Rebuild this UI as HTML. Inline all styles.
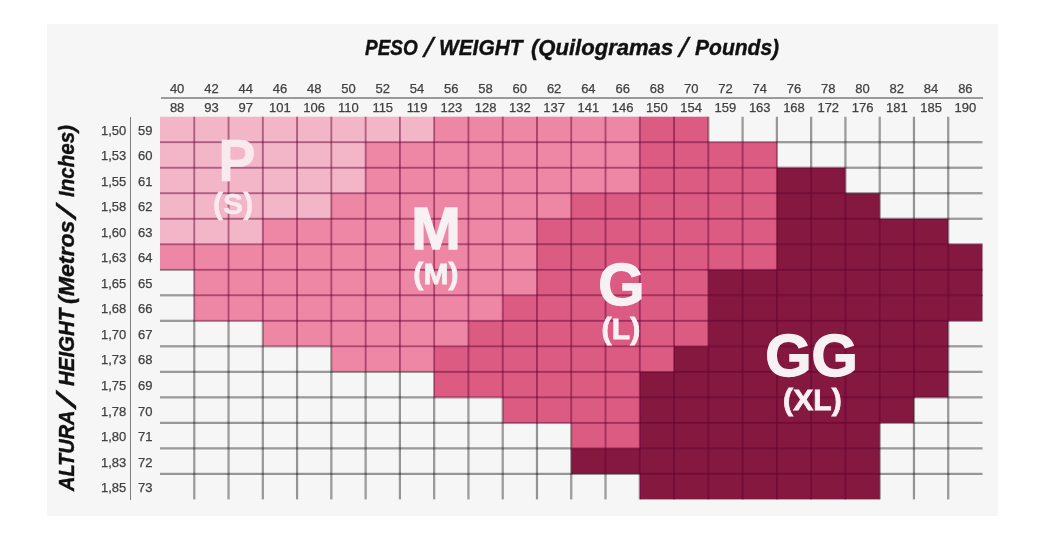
<!DOCTYPE html>
<html lang="pt">
<head>
<meta charset="utf-8">
<title>PESO / WEIGHT - ALTURA / HEIGHT</title>
<style>
html,body{margin:0;padding:0;background:#fff;}
body{width:1045px;height:540px;position:relative;overflow:hidden;font-family:"Liberation Sans",sans-serif;}
#chart{position:absolute;left:0;top:0;width:1045px;height:540px;filter:blur(0.45px);}
#panel{position:absolute;left:47px;top:24px;width:951px;height:491.5px;background:#f6f6f6;}
#grid{position:absolute;left:0;top:0;width:1045px;height:540px;}
#grid .lw{fill:rgba(0,0,0,0.40);}
#grid .lc{fill:rgba(100,0,50,0.52);}
.t{position:absolute;white-space:nowrap;line-height:1;}
.title{font-weight:bold;font-style:italic;color:#111;-webkit-text-stroke:0.4px #111;font-size:22.3px;height:22.3px;width:0;transform-origin:0 0;}
.title .w{position:absolute;top:0;display:block;transform-origin:0 0;}
.title .sl{font-size:28px;top:-3.33px;font-weight:normal;-webkit-text-stroke:0.35px #111;}
.num{font-size:13px;color:#404040;-webkit-text-stroke:0.25px #404040;width:40px;margin-left:-20px;text-align:center;}
.rl{font-size:13px;color:#404040;-webkit-text-stroke:0.25px #404040;}
.big{font-weight:bold;color:#f7f1f4;font-size:59.5px;-webkit-text-stroke:1.4px #f7f1f4;text-align:center;width:200px;margin-left:-100px;}
.sub{font-weight:bold;color:#f7f1f4;font-size:30px;-webkit-text-stroke:0.8px #f7f1f4;letter-spacing:0.2px;text-align:center;width:200px;margin-left:-100px;}
.big.p{color:#f8eaef;-webkit-text-stroke:0.5px #f8eaef;font-size:59px;transform:scaleX(0.95);}
.sub.p{color:#f8eaef;-webkit-text-stroke:0.5px #f8eaef;}
.hl{position:absolute;background:#929292;}
</style>
</head>
<body>
<div id="chart">
<div id="panel"></div>
<svg id="grid" width="1045" height="540" viewBox="0 0 1045 540">

<g id="cells">
<rect x="160" y="116.7" width="274.77" height="26.11" fill="#f3b5c8"/>
<rect x="434.17" y="116.7" width="206.22" height="26.11" fill="#ee86a5"/>
<rect x="639.79" y="116.7" width="68.54" height="26.11" fill="#dc5b82"/>
<rect x="160" y="142.21" width="206.22" height="26.11" fill="#f3b5c8"/>
<rect x="365.62" y="142.21" width="274.77" height="26.11" fill="#ee86a5"/>
<rect x="639.79" y="142.21" width="137.08" height="26.11" fill="#dc5b82"/>
<rect x="160" y="167.73" width="206.22" height="26.11" fill="#f3b5c8"/>
<rect x="365.62" y="167.73" width="274.77" height="26.11" fill="#ee86a5"/>
<rect x="639.79" y="167.73" width="137.68" height="26.11" fill="#dc5b82"/>
<rect x="776.88" y="167.73" width="68.54" height="26.11" fill="#84183f"/>
<rect x="160" y="193.24" width="171.95" height="26.11" fill="#f3b5c8"/>
<rect x="331.35" y="193.24" width="240.5" height="26.11" fill="#ee86a5"/>
<rect x="571.25" y="193.24" width="206.22" height="26.11" fill="#dc5b82"/>
<rect x="776.88" y="193.24" width="102.81" height="26.11" fill="#84183f"/>
<rect x="160" y="218.75" width="103.41" height="26.11" fill="#f3b5c8"/>
<rect x="262.81" y="218.75" width="274.77" height="26.11" fill="#ee86a5"/>
<rect x="536.98" y="218.75" width="240.5" height="26.11" fill="#dc5b82"/>
<rect x="776.88" y="218.75" width="171.35" height="26.11" fill="#84183f"/>
<rect x="160" y="244.27" width="34.87" height="25.51" fill="#ee86a5"/>
<rect x="194.27" y="244.27" width="343.31" height="26.11" fill="#ee86a5"/>
<rect x="536.98" y="244.27" width="240.5" height="26.11" fill="#dc5b82"/>
<rect x="776.88" y="244.27" width="205.62" height="26.11" fill="#84183f"/>
<rect x="194.27" y="269.78" width="343.31" height="26.11" fill="#ee86a5"/>
<rect x="536.98" y="269.78" width="171.95" height="26.11" fill="#dc5b82"/>
<rect x="708.33" y="269.78" width="274.17" height="26.11" fill="#84183f"/>
<rect x="194.27" y="295.29" width="69.14" height="25.51" fill="#ee86a5"/>
<rect x="262.81" y="295.29" width="240.5" height="26.11" fill="#ee86a5"/>
<rect x="502.71" y="295.29" width="206.22" height="26.11" fill="#dc5b82"/>
<rect x="708.33" y="295.29" width="240.5" height="26.11" fill="#84183f"/>
<rect x="948.23" y="295.29" width="34.27" height="25.51" fill="#84183f"/>
<rect x="262.81" y="320.81" width="69.14" height="25.51" fill="#ee86a5"/>
<rect x="331.35" y="320.81" width="137.68" height="26.11" fill="#ee86a5"/>
<rect x="468.44" y="320.81" width="240.5" height="26.11" fill="#dc5b82"/>
<rect x="708.33" y="320.81" width="239.9" height="26.11" fill="#84183f"/>
<rect x="331.35" y="346.32" width="103.41" height="25.51" fill="#ee86a5"/>
<rect x="434.17" y="346.32" width="240.5" height="26.11" fill="#dc5b82"/>
<rect x="674.06" y="346.32" width="274.17" height="26.11" fill="#84183f"/>
<rect x="434.17" y="371.83" width="69.14" height="25.51" fill="#dc5b82"/>
<rect x="502.71" y="371.83" width="137.68" height="26.11" fill="#dc5b82"/>
<rect x="639.79" y="371.83" width="274.77" height="26.11" fill="#84183f"/>
<rect x="913.96" y="371.83" width="34.27" height="25.51" fill="#84183f"/>
<rect x="502.71" y="397.35" width="69.14" height="25.51" fill="#dc5b82"/>
<rect x="571.25" y="397.35" width="69.14" height="26.11" fill="#dc5b82"/>
<rect x="639.79" y="397.35" width="240.5" height="26.11" fill="#84183f"/>
<rect x="879.69" y="397.35" width="34.27" height="25.51" fill="#84183f"/>
<rect x="571.25" y="422.86" width="69.14" height="26.11" fill="#dc5b82"/>
<rect x="639.79" y="422.86" width="239.9" height="26.11" fill="#84183f"/>
<rect x="571.25" y="448.37" width="69.14" height="25.51" fill="#84183f"/>
<rect x="639.79" y="448.37" width="239.9" height="26.11" fill="#84183f"/>
<rect x="639.79" y="473.89" width="239.9" height="25.51" fill="#84183f"/>
</g>
<g class="lw"><rect x="193.17" y="269.78" width="1.1" height="229.62"/><rect x="194.27" y="320.81" width="1.1" height="178.59"/><rect x="227.44" y="320.81" width="1.1" height="178.59"/><rect x="228.54" y="320.81" width="1.1" height="178.59"/><rect x="261.71" y="320.81" width="1.1" height="178.59"/><rect x="262.81" y="346.32" width="1.1" height="153.08"/><rect x="295.98" y="346.32" width="1.1" height="153.08"/><rect x="297.08" y="346.32" width="1.1" height="153.08"/><rect x="330.25" y="346.32" width="1.1" height="153.08"/><rect x="331.35" y="371.83" width="1.1" height="127.57"/><rect x="364.52" y="371.83" width="1.1" height="127.57"/><rect x="365.62" y="371.83" width="1.1" height="127.57"/><rect x="398.8" y="371.83" width="1.1" height="127.57"/><rect x="399.9" y="371.83" width="1.1" height="127.57"/><rect x="433.07" y="371.83" width="1.1" height="127.57"/><rect x="434.17" y="397.35" width="1.1" height="102.05"/><rect x="467.34" y="397.35" width="1.1" height="102.05"/><rect x="468.44" y="397.35" width="1.1" height="102.05"/><rect x="501.61" y="397.35" width="1.1" height="102.05"/><rect x="502.71" y="422.86" width="1.1" height="76.54"/><rect x="535.88" y="422.86" width="1.1" height="76.54"/><rect x="536.98" y="422.86" width="1.1" height="76.54"/><rect x="570.15" y="422.86" width="1.1" height="76.54"/><rect x="571.25" y="473.89" width="1.1" height="25.51"/><rect x="604.42" y="473.89" width="1.1" height="25.51"/><rect x="605.52" y="473.89" width="1.1" height="25.51"/><rect x="638.69" y="473.89" width="1.1" height="25.51"/><rect x="708.33" y="116.7" width="1.1" height="25.51"/><rect x="741.5" y="116.7" width="1.1" height="25.51"/><rect x="742.6" y="116.7" width="1.1" height="25.51"/><rect x="775.77" y="116.7" width="1.1" height="25.51"/><rect x="776.88" y="116.7" width="1.1" height="51.03"/><rect x="810.05" y="116.7" width="1.1" height="51.03"/><rect x="811.15" y="116.7" width="1.1" height="51.03"/><rect x="844.32" y="116.7" width="1.1" height="51.03"/><rect x="845.42" y="116.7" width="1.1" height="76.54"/><rect x="878.59" y="116.7" width="1.1" height="76.54"/><rect x="879.69" y="116.7" width="1.1" height="102.05"/><rect x="879.69" y="422.86" width="1.1" height="76.54"/><rect x="912.86" y="116.7" width="1.1" height="102.05"/><rect x="912.86" y="422.86" width="1.1" height="76.54"/><rect x="913.96" y="116.7" width="1.1" height="102.05"/><rect x="913.96" y="397.35" width="1.1" height="102.05"/><rect x="947.13" y="116.7" width="1.1" height="102.05"/><rect x="947.13" y="397.35" width="1.1" height="102.05"/><rect x="948.23" y="116.7" width="1.1" height="127.57"/><rect x="948.23" y="320.81" width="1.1" height="178.59"/></g>
<g class="lw"><rect x="708.33" y="141.11" width="274.17" height="1.1"/><rect x="776.88" y="142.21" width="205.62" height="1.1"/><rect x="776.88" y="166.63" width="205.62" height="1.1"/><rect x="845.42" y="167.73" width="137.08" height="1.1"/><rect x="845.42" y="192.14" width="137.08" height="1.1"/><rect x="879.69" y="193.24" width="102.81" height="1.1"/><rect x="879.69" y="217.65" width="102.81" height="1.1"/><rect x="948.23" y="218.75" width="34.27" height="1.1"/><rect x="948.23" y="243.17" width="34.27" height="1.1"/><rect x="160" y="269.78" width="34.27" height="1.1"/><rect x="160" y="294.19" width="34.27" height="1.1"/><rect x="160" y="295.29" width="34.27" height="1.1"/><rect x="160" y="319.71" width="34.27" height="1.1"/><rect x="160" y="320.81" width="102.81" height="1.1"/><rect x="948.23" y="320.81" width="34.27" height="1.1"/><rect x="160" y="345.22" width="102.81" height="1.1"/><rect x="948.23" y="345.22" width="34.27" height="1.1"/><rect x="160" y="346.32" width="171.35" height="1.1"/><rect x="948.23" y="346.32" width="34.27" height="1.1"/><rect x="160" y="370.73" width="171.35" height="1.1"/><rect x="948.23" y="370.73" width="34.27" height="1.1"/><rect x="160" y="371.83" width="274.17" height="1.1"/><rect x="948.23" y="371.83" width="34.27" height="1.1"/><rect x="160" y="396.25" width="274.17" height="1.1"/><rect x="948.23" y="396.25" width="34.27" height="1.1"/><rect x="160" y="397.35" width="342.71" height="1.1"/><rect x="913.96" y="397.35" width="68.54" height="1.1"/><rect x="160" y="421.76" width="342.71" height="1.1"/><rect x="913.96" y="421.76" width="68.54" height="1.1"/><rect x="160" y="422.86" width="411.25" height="1.1"/><rect x="879.69" y="422.86" width="102.81" height="1.1"/><rect x="160" y="447.27" width="411.25" height="1.1"/><rect x="879.69" y="447.27" width="102.81" height="1.1"/><rect x="160" y="448.37" width="411.25" height="1.1"/><rect x="879.69" y="448.37" width="102.81" height="1.1"/><rect x="160" y="472.79" width="411.25" height="1.1"/><rect x="879.69" y="472.79" width="102.81" height="1.1"/><rect x="160" y="473.89" width="479.79" height="1.1"/><rect x="879.69" y="473.89" width="102.81" height="1.1"/></g>
<g class="lc"><rect x="193.37" y="116.7" width="0.9" height="153.08"/><rect x="194.27" y="116.7" width="0.9" height="204.11"/><rect x="227.64" y="116.7" width="0.9" height="204.11"/><rect x="228.54" y="116.7" width="0.9" height="204.11"/><rect x="261.91" y="116.7" width="0.9" height="204.11"/><rect x="262.81" y="116.7" width="0.9" height="229.62"/><rect x="296.18" y="116.7" width="0.9" height="229.62"/><rect x="297.08" y="116.7" width="0.9" height="229.62"/><rect x="330.45" y="116.7" width="0.9" height="229.62"/><rect x="331.35" y="116.7" width="0.9" height="255.13"/><rect x="364.73" y="116.7" width="0.9" height="255.13"/><rect x="365.62" y="116.7" width="0.9" height="255.13"/><rect x="399" y="116.7" width="0.9" height="255.13"/><rect x="399.9" y="116.7" width="0.9" height="255.13"/><rect x="433.27" y="116.7" width="0.9" height="255.13"/><rect x="434.17" y="116.7" width="0.9" height="280.65"/><rect x="467.54" y="116.7" width="0.9" height="280.65"/><rect x="468.44" y="116.7" width="0.9" height="280.65"/><rect x="501.81" y="116.7" width="0.9" height="280.65"/><rect x="502.71" y="116.7" width="0.9" height="306.16"/><rect x="536.08" y="116.7" width="0.9" height="306.16"/><rect x="536.98" y="116.7" width="0.9" height="306.16"/><rect x="570.35" y="116.7" width="0.9" height="306.16"/><rect x="571.25" y="116.7" width="0.9" height="357.19"/><rect x="604.62" y="116.7" width="0.9" height="357.19"/><rect x="605.52" y="116.7" width="0.9" height="357.19"/><rect x="638.89" y="116.7" width="0.9" height="357.19"/><rect x="639.79" y="116.7" width="0.9" height="382.7"/><rect x="673.16" y="116.7" width="0.9" height="382.7"/><rect x="674.06" y="116.7" width="0.9" height="382.7"/><rect x="707.43" y="116.7" width="0.9" height="382.7"/><rect x="708.33" y="142.21" width="0.9" height="357.19"/><rect x="741.7" y="142.21" width="0.9" height="357.19"/><rect x="742.6" y="142.21" width="0.9" height="357.19"/><rect x="775.98" y="142.21" width="0.9" height="357.19"/><rect x="776.88" y="167.73" width="0.9" height="331.67"/><rect x="810.25" y="167.73" width="0.9" height="331.67"/><rect x="811.15" y="167.73" width="0.9" height="331.67"/><rect x="844.52" y="167.73" width="0.9" height="331.67"/><rect x="845.42" y="193.24" width="0.9" height="306.16"/><rect x="878.79" y="193.24" width="0.9" height="306.16"/><rect x="879.69" y="218.75" width="0.9" height="204.11"/><rect x="913.06" y="218.75" width="0.9" height="204.11"/><rect x="913.96" y="218.75" width="0.9" height="178.59"/><rect x="947.33" y="218.75" width="0.9" height="178.59"/><rect x="948.23" y="244.27" width="0.9" height="76.54"/></g>
<g class="lc"><rect x="160" y="141.31" width="548.33" height="0.9"/><rect x="160" y="142.21" width="616.88" height="0.9"/><rect x="160" y="166.83" width="616.88" height="0.9"/><rect x="160" y="167.73" width="685.42" height="0.9"/><rect x="160" y="192.34" width="685.42" height="0.9"/><rect x="160" y="193.24" width="719.69" height="0.9"/><rect x="160" y="217.85" width="719.69" height="0.9"/><rect x="160" y="218.75" width="788.23" height="0.9"/><rect x="160" y="243.37" width="788.23" height="0.9"/><rect x="160" y="244.27" width="822.5" height="0.9"/><rect x="160" y="268.88" width="822.5" height="0.9"/><rect x="194.27" y="269.78" width="788.23" height="0.9"/><rect x="194.27" y="294.39" width="788.23" height="0.9"/><rect x="194.27" y="295.29" width="788.23" height="0.9"/><rect x="194.27" y="319.91" width="788.23" height="0.9"/><rect x="262.81" y="320.81" width="685.42" height="0.9"/><rect x="262.81" y="345.42" width="685.42" height="0.9"/><rect x="331.35" y="346.32" width="616.88" height="0.9"/><rect x="331.35" y="370.93" width="616.88" height="0.9"/><rect x="434.17" y="371.83" width="514.06" height="0.9"/><rect x="434.17" y="396.45" width="514.06" height="0.9"/><rect x="502.71" y="397.35" width="411.25" height="0.9"/><rect x="502.71" y="421.96" width="411.25" height="0.9"/><rect x="571.25" y="422.86" width="308.44" height="0.9"/><rect x="571.25" y="447.47" width="308.44" height="0.9"/><rect x="571.25" y="448.37" width="308.44" height="0.9"/><rect x="571.25" y="472.99" width="308.44" height="0.9"/><rect x="639.79" y="473.89" width="239.9" height="0.9"/></g>
</svg>
<div class="hl" style="left:160.5px;top:96.5px;width:822px;height:2.2px;background:#9a9a9a"></div>
<div class="hl" style="left:129.6px;top:117px;width:1.8px;height:382.5px;background:#7c7c7c"></div>
<div class="t title" id="title" style="left:0;top:37.19px"><span class="w" style="left:364.59px;transform:scaleX(0.8513)">PESO</span> <span class="w sl" style="left:423.54px;transform:scaleX(1.1409)">/</span> <span class="w" style="left:438.91px;transform:scaleX(0.9358)">WEIGHT</span> <span class="w" style="left:531.28px;transform:scaleX(0.9891)">(Quilogramas</span> <span class="w sl" style="left:678.54px;transform:scaleX(1.1409)">/</span> <span class="w" style="left:695.29px;transform:scaleX(0.9433)">Pounds)</span></div>
<div class="t title" id="vtitle" style="left:55.89px;top:490.7px;transform:rotate(-90deg)"><span class="w" style="left:0.43px;transform:scaleX(0.8937)">ALTURA</span> <span class="w sl" style="left:84.43px;transform:scaleX(1.6702)">/</span> <span class="w" style="left:104.76px;transform:scaleX(0.9177)">HEIGHT</span> <span class="w" style="left:186.85px;transform:scaleX(1.0352)">(Metros</span> <span class="w sl" style="left:273.21px;transform:scaleX(1.5425)">/</span> <span class="w" style="left:294.25px;transform:scaleX(0.9214)">Inches)</span></div>
<div class="t num" style="left:177.14px;top:81.6px">40</div>
<div class="t num" style="left:177.14px;top:100.7px">88</div>
<div class="t num" style="left:211.41px;top:81.6px">42</div>
<div class="t num" style="left:211.41px;top:100.7px">93</div>
<div class="t num" style="left:245.68px;top:81.6px">44</div>
<div class="t num" style="left:245.68px;top:100.7px">97</div>
<div class="t num" style="left:279.95px;top:81.6px">46</div>
<div class="t num" style="left:279.95px;top:100.7px">101</div>
<div class="t num" style="left:314.22px;top:81.6px">48</div>
<div class="t num" style="left:314.22px;top:100.7px">106</div>
<div class="t num" style="left:348.49px;top:81.6px">50</div>
<div class="t num" style="left:348.49px;top:100.7px">110</div>
<div class="t num" style="left:382.76px;top:81.6px">52</div>
<div class="t num" style="left:382.76px;top:100.7px">115</div>
<div class="t num" style="left:417.03px;top:81.6px">54</div>
<div class="t num" style="left:417.03px;top:100.7px">119</div>
<div class="t num" style="left:451.3px;top:81.6px">56</div>
<div class="t num" style="left:451.3px;top:100.7px">123</div>
<div class="t num" style="left:485.57px;top:81.6px">58</div>
<div class="t num" style="left:485.57px;top:100.7px">128</div>
<div class="t num" style="left:519.84px;top:81.6px">60</div>
<div class="t num" style="left:519.84px;top:100.7px">132</div>
<div class="t num" style="left:554.11px;top:81.6px">62</div>
<div class="t num" style="left:554.11px;top:100.7px">137</div>
<div class="t num" style="left:588.39px;top:81.6px">64</div>
<div class="t num" style="left:588.39px;top:100.7px">141</div>
<div class="t num" style="left:622.66px;top:81.6px">66</div>
<div class="t num" style="left:622.66px;top:100.7px">146</div>
<div class="t num" style="left:656.93px;top:81.6px">68</div>
<div class="t num" style="left:656.93px;top:100.7px">150</div>
<div class="t num" style="left:691.2px;top:81.6px">70</div>
<div class="t num" style="left:691.2px;top:100.7px">154</div>
<div class="t num" style="left:725.47px;top:81.6px">72</div>
<div class="t num" style="left:725.47px;top:100.7px">159</div>
<div class="t num" style="left:759.74px;top:81.6px">74</div>
<div class="t num" style="left:759.74px;top:100.7px">163</div>
<div class="t num" style="left:794.01px;top:81.6px">76</div>
<div class="t num" style="left:794.01px;top:100.7px">168</div>
<div class="t num" style="left:828.28px;top:81.6px">78</div>
<div class="t num" style="left:828.28px;top:100.7px">172</div>
<div class="t num" style="left:862.55px;top:81.6px">80</div>
<div class="t num" style="left:862.55px;top:100.7px">176</div>
<div class="t num" style="left:896.82px;top:81.6px">82</div>
<div class="t num" style="left:896.82px;top:100.7px">181</div>
<div class="t num" style="left:931.09px;top:81.6px">84</div>
<div class="t num" style="left:931.09px;top:100.7px">185</div>
<div class="t num" style="left:965.36px;top:81.6px">86</div>
<div class="t num" style="left:965.36px;top:100.7px">190</div>
<div class="t rl" style="left:100px;width:26.3px;text-align:right;top:123.86px">1,50</div>
<div class="t rl" style="left:138px;top:123.86px">59</div>
<div class="t rl" style="left:100px;width:26.3px;text-align:right;top:149.37px">1,53</div>
<div class="t rl" style="left:138px;top:149.37px">60</div>
<div class="t rl" style="left:100px;width:26.3px;text-align:right;top:174.88px">1,55</div>
<div class="t rl" style="left:138px;top:174.88px">61</div>
<div class="t rl" style="left:100px;width:26.3px;text-align:right;top:200.4px">1,58</div>
<div class="t rl" style="left:138px;top:200.4px">62</div>
<div class="t rl" style="left:100px;width:26.3px;text-align:right;top:225.91px">1,60</div>
<div class="t rl" style="left:138px;top:225.91px">63</div>
<div class="t rl" style="left:100px;width:26.3px;text-align:right;top:251.42px">1,63</div>
<div class="t rl" style="left:138px;top:251.42px">64</div>
<div class="t rl" style="left:100px;width:26.3px;text-align:right;top:276.94px">1,65</div>
<div class="t rl" style="left:138px;top:276.94px">65</div>
<div class="t rl" style="left:100px;width:26.3px;text-align:right;top:302.45px">1,68</div>
<div class="t rl" style="left:138px;top:302.45px">66</div>
<div class="t rl" style="left:100px;width:26.3px;text-align:right;top:327.96px">1,70</div>
<div class="t rl" style="left:138px;top:327.96px">67</div>
<div class="t rl" style="left:100px;width:26.3px;text-align:right;top:353.48px">1,73</div>
<div class="t rl" style="left:138px;top:353.48px">68</div>
<div class="t rl" style="left:100px;width:26.3px;text-align:right;top:378.99px">1,75</div>
<div class="t rl" style="left:138px;top:378.99px">69</div>
<div class="t rl" style="left:100px;width:26.3px;text-align:right;top:404.5px">1,78</div>
<div class="t rl" style="left:138px;top:404.5px">70</div>
<div class="t rl" style="left:100px;width:26.3px;text-align:right;top:430.02px">1,80</div>
<div class="t rl" style="left:138px;top:430.02px">71</div>
<div class="t rl" style="left:100px;width:26.3px;text-align:right;top:455.53px">1,83</div>
<div class="t rl" style="left:138px;top:455.53px">72</div>
<div class="t rl" style="left:100px;width:26.3px;text-align:right;top:481.04px">1,85</div>
<div class="t rl" style="left:138px;top:481.04px">73</div>
<div class="t big p" style="left:237.3px;top:132px">P</div>
<div class="t sub p" style="left:233.2px;top:188.7px">(S)</div>
<div class="t big" style="left:436px;top:198.7px">M</div>
<div class="t sub" style="left:436px;top:258.9px">(M)</div>
<div class="t big" style="left:621.5px;top:254.7px">G</div>
<div class="t sub" style="left:621px;top:313.7px">(L)</div>
<div class="t big" style="left:811.5px;top:326px">GG</div>
<div class="t sub" style="left:812.5px;top:384.7px">(XL)</div>
</div>
</body>
</html>
